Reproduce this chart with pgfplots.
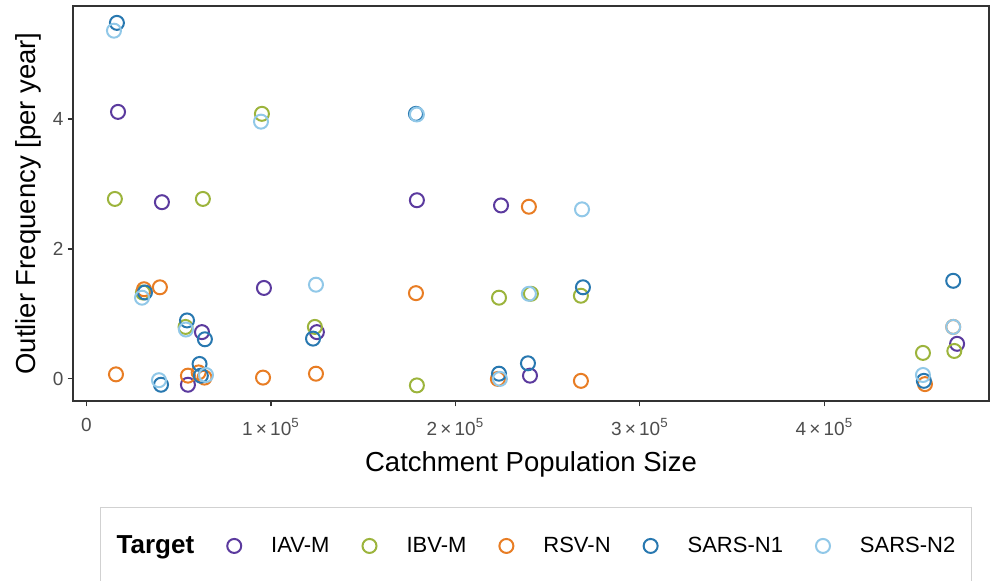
\documentclass[border=0pt]{standalone}
\usepackage{pgfplots}
\pgfplotsset{compat=1.18}
\usepackage{fontspec}
\setmainfont{Liberation Sans}
\definecolor{cIAV}{HTML}{5B3A9E}
\definecolor{cIBV}{HTML}{9CB43C}
\definecolor{cRSV}{HTML}{E87D24}
\definecolor{cN1}{HTML}{2878B0}
\definecolor{cN2}{HTML}{91C8E8}
\definecolor{tickgrey}{HTML}{4D4D4D}
\definecolor{framegrey}{HTML}{333333}
\begin{document}
\begin{tikzpicture}
\begin{axis}[
  at={(36.5pt,90pt)}, anchor=south west,
  scale only axis, width=458pt, height=197.5pt,
  xmin=-7300, xmax=489200, ymin=-0.34, ymax=5.74,
  /pgf/number format/assume math mode=true,
  axis line style={framegrey, line width=0.55pt},
  tick style={framegrey, line width=0.55pt},
  tick align=outside, major tick length=2.75pt, tick pos=left,
  xtick={0,100000,200000,300000,400000},
  xticklabels={0, 1\,×\,10\textsuperscript{5}, 2\,×\,10\textsuperscript{5}, 3\,×\,10\textsuperscript{5}, 4\,×\,10\textsuperscript{5}},
  scaled x ticks=false,
  ytick={0,2,4},
  ticklabel style={font=\fontsize{9.5}{11}\selectfont, text=tickgrey},
  xticklabel style={yshift=-2.5pt},
  yticklabel style={xshift=1.5pt},
  xlabel={Catchment Population Size},
  ylabel={Outlier Frequency [per year]},
  label style={font=\fontsize{13.75}{16}\selectfont},
  xlabel style={at={(axis description cs:0.5,-0.1797)}, anchor=base},
  ylabel style={at={(axis description cs:-0.0404,0.5)}, anchor=base},
  every axis plot/.append style={only marks, mark=o, mark size=3.5pt, line width=1pt},
  legend image code/.code={\path[draw=none,fill=none] (0pt,-4pt) (18pt,4pt); \draw[mark repeat=2,mark phase=2,#1] plot coordinates {(0pt,0pt) (9pt,0pt) (18pt,0pt)};},
  legend columns=-1,
  legend style={
    at={(axis description cs:0.5055,-0.2684)}, anchor=north,
    draw=black!18, line width=0.5pt, fill=white,
    inner xsep=8pt, inner ysep=14pt,
    font=\fontsize{11}{12.5}\selectfont,
    nodes={inner sep=0pt},
    /tikz/every odd column/.append style={column sep=9.5pt},
    /tikz/every even column/.append style={column sep=11pt},
  },
]
\addlegendimage{empty legend}
\addlegendentry{\hspace*{-9.5pt}\fontsize{13}{15}\selectfont\bfseries Target}
\addplot[cIAV] coordinates {(17100,4.11) (40900,2.72) (55000,-0.09) (62600,0.72) (96200,1.40) (124900,0.72) (179100,2.75) (224700,2.67) (240400,0.05) (471900,0.54)};
\addlegendentry{IAV-M}
\addplot[cIBV] coordinates {(15400,2.77) (30600,1.33) (53700,0.80) (63100,2.77) (95100,4.08) (123800,0.80) (179100,-0.10) (223600,1.25) (240900,1.31) (268000,1.28) (453400,0.40) (470400,0.43)};
\addlegendentry{IBV-M}
\addplot[cRSV] coordinates {(16000,0.07) (31200,1.38) (39800,1.41) (55000,0.05) (60800,0.10) (64000,0.02) (95700,0.02) (124400,0.08) (178600,1.32) (223000,0.00) (239800,2.65) (268000,-0.03) (454500,-0.08) (469800,0.80)};
\addlegendentry{RSV-N}
\addplot[cN1] coordinates {(16500,5.48) (31700,1.33) (40400,-0.09) (54500,0.90) (61300,0.23) (62000,0.05) (64200,0.61) (122800,0.62) (178600,4.08) (223600,0.08) (239300,0.24) (269100,1.41) (453900,-0.03) (469800,1.51)};
\addlegendentry{SARS-N1}
\addplot[cN2] coordinates {(14900,5.36) (30100,1.25) (39300,-0.02) (53900,0.76) (64800,0.06) (94600,3.96) (124400,1.45) (179100,4.07) (224100,0.00) (239800,1.31) (268600,2.61) (453400,0.06) (469800,0.80)};
\addlegendentry{SARS-N2}
\end{axis}
\pgfresetboundingbox
\path[use as bounding box] (0,0) rectangle (495pt,290.5pt);
\end{tikzpicture}
\end{document}
